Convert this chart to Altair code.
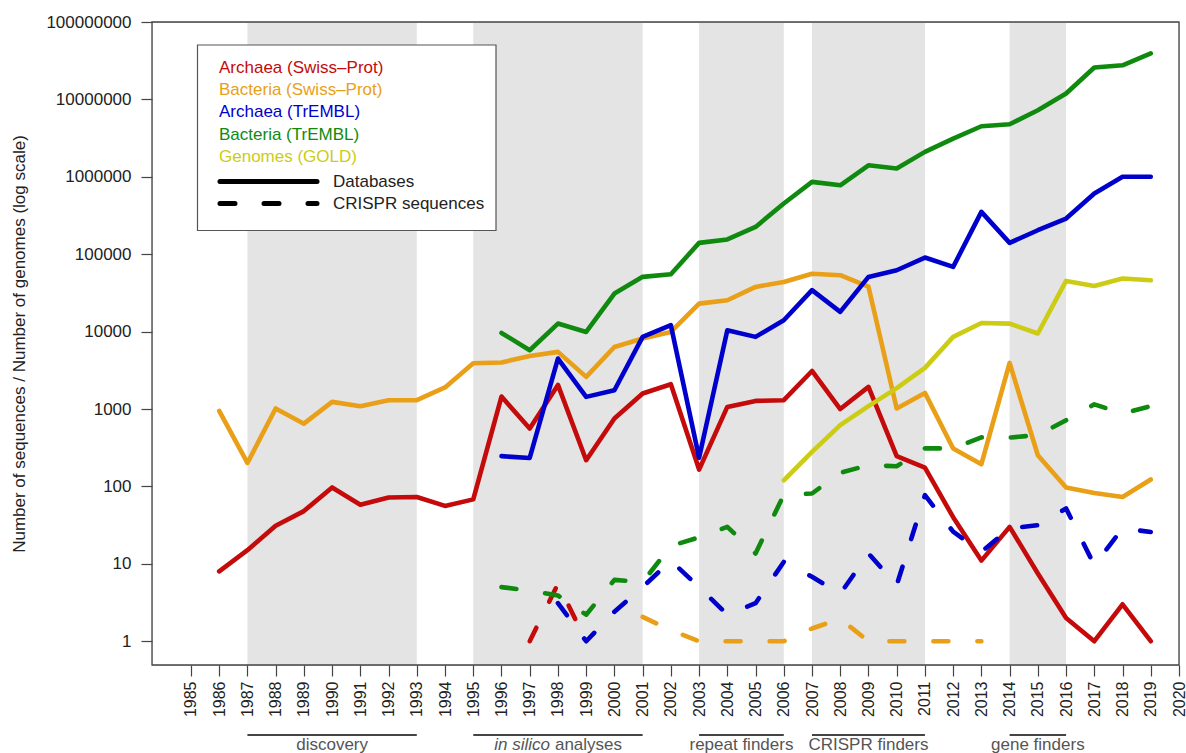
import altair as alt
import pandas as pd

FONT = "Liberation Sans"

# ---------------- data ----------------
tick_years = list(range(1985, 2021))
y_ticks = [1, 10, 100, 1000, 10000, 100000, 1000000, 10000000, 100000000]

series_names = ["Archaea (Swiss\u2013Prot)", "Bacteria (Swiss\u2013Prot)",
                "Archaea (TrEMBL)", "Bacteria (TrEMBL)", "Genomes (GOLD)"]
series_colors = ["#c40a0a", "#e99f17", "#0000cd", "#0f8a0f", "#cccc14"]

# Databases (solid lines)
archaea_sp_years = list(range(1986, 2020))
archaea_sp = [8, 15, 31, 48, 97, 58, 72, 73, 56, 68, 1450, 560, 2050, 218, 754,
              1585, 2090, 165, 1064, 1273, 1300, 3100, 1000, 1930, 246, 175, 40,
              11, 30, 7.5, 2, 1, 3, 1]
bacteria_sp_years = list(range(1986, 2020))
bacteria_sp = [945, 201, 1015, 647, 1236, 1087, 1300, 1300, 1900, 3900, 3990,
               4850, 5470, 2600, 6330, 8130, 9900, 23000, 25450, 37800, 43800,
               56000, 53600, 38000, 1015, 1615, 309, 194, 3940, 253, 97, 82, 73, 123]
archaea_tr_years = list(range(1996, 2020))
archaea_tr = [246, 233, 4490, 1435, 1750, 8550, 12100, 235, 10400, 8550, 14000,
              34300, 18000, 50900, 62100, 90600, 68600, 352000, 140000, 204000,
              289000, 608000, 1000000, 1000000]
bacteria_tr_years = list(range(1996, 2020))
bacteria_tr = [9620, 5750, 12700, 9900, 31000, 51000, 55200, 140000, 155000,
               225000, 452000, 860000, 777000, 1410000, 1280000, 2100000, 3120000,
               4500000, 4780000, 7240000, 11900000, 25800000, 27600000, 39200000]
genomes_years = list(range(2006, 2020))
genomes = [120, 280, 620, 1090, 1860, 3400, 8550, 12900, 12700, 9460, 45200,
           38900, 48500, 46100]

# CRISPR sequences (dashed lines)
archaea_sp_crispr_years = [1997, 1998, 1999]
archaea_sp_crispr = [1, 5.5, 1]
bacteria_sp_crispr_years = list(range(2001, 2014))
bacteria_sp_crispr = [2.06, 1.39, 1, 1, 1, 1, 1.46, 1.95, 1, 1, 1, 1, 1]
archaea_tr_crispr_years = list(range(1998, 2020))
archaea_tr_crispr = [3.1, 1.0, 2.4, 5.0, 11, 5, 2.2, 3.1, 10.6, 6.8, 4.1, 13.6,
                     5.3, 77, 26, 14.3, 28.6, 31.6, 52, 9.6, 28.6, 25.8]
bacteria_tr_crispr_years = list(range(1996, 2020))
bacteria_tr_crispr = [5.0, 4.5, 3.9, 2.2, 6.2, 5.8, 17, 22, 30, 13.6, 78, 81, 150,
                      188, 182, 310, 310, 430, 428, 460, 716, 1150, 873, 1090]

band_starts = [1987, 1995, 2003, 2007, 2014]
band_ends = [1993, 2001, 2006, 2011, 2016]
band_labels = ["discovery", "in silico analyses", "repeat finders",
               "CRISPR finders", "gene finders"]

legend_kinds = ["Databases", "CRISPR sequences"]
y_title = "Number of sequences / Number of genomes (log scale)"

# ---------------- layout ----------------
W, H = 1027, 643

x_scale = alt.Scale(domain=[1983.62, 2020], nice=False, zero=False)
y_scale = alt.Scale(type="log", domain=[0.493, 1e8], nice=False)

x_axis = alt.Axis(values=tick_years, format="d", labelAngle=270, labelAlign="right",
                  labelBaseline="middle", labelFontSize=16, labelColor="#222",
                  labelFont=FONT, tickSize=11, tickColor="#444", tickWidth=1.2,
                  labelPadding=5, domain=False, grid=False, labelOverlap=False)
y_axis = alt.Axis(values=y_ticks, format="d", labelFontSize=17, labelColor="#222",
                  labelFont=FONT, tickSize=11, tickColor="#444", tickWidth=1.2,
                  labelPadding=10, domain=False, grid=False,
                  titleFont=FONT, titleFontSize=17, titleFontWeight="normal",
                  titleColor="#222", titleX=-133, titleY=H / 2, titleAngle=270,
                  titleAlign="center", titleBaseline="middle")


def X(field):
    return alt.X(f"{field}:Q", scale=x_scale, axis=x_axis, title=None)


one = pd.DataFrame({"a": [0]})

# grey bands
bands_df = pd.DataFrame({"start": band_starts, "end": band_ends,
                         "mid": [(a + b) / 2 for a, b in zip(band_starts, band_ends)],
                         "label": band_labels})
bands = alt.Chart(bands_df).mark_rect(color="#e4e4e4").encode(
    x=X("start"), x2="end:Q", y=alt.value(0), y2=alt.value(H))

# data lines
solid = [(archaea_sp_years, archaea_sp), (bacteria_sp_years, bacteria_sp),
         (archaea_tr_years, archaea_tr), (bacteria_tr_years, bacteria_tr),
         (genomes_years, genomes)]
dashed = [(archaea_sp_crispr_years, archaea_sp_crispr),
          (bacteria_sp_crispr_years, bacteria_sp_crispr),
          (archaea_tr_crispr_years, archaea_tr_crispr),
          (bacteria_tr_crispr_years, bacteria_tr_crispr)]

DASH = [15, 29]


def line_layer(yrs, vals, color, **kw):
    df = pd.DataFrame({"year": yrs, "value": vals})
    return alt.Chart(df).mark_line(color=color, strokeWidth=4.6, strokeCap="round",
                                   strokeJoin="round", **kw).encode(
        x=X("year"),
        y=alt.Y("value:Q", scale=y_scale, axis=y_axis, title=y_title))


line_layers = []
for (yrs, vals), c in zip(solid, series_colors):
    line_layers.append(line_layer(yrs, vals, c))
for (yrs, vals), c in zip(dashed, series_colors):
    line_layers.append(line_layer(yrs, vals, c, strokeDash=DASH))

# legend (drawn inside plot area, top-left)
legend_layers = [alt.Chart(one).mark_rect(fill="white", stroke="#555", strokeWidth=1.2).encode(
    x=alt.value(45.5), x2=alt.value(344), y=alt.value(23), y2=alt.value(208.5))]
row_y = [46, 68, 90, 112.5, 134.5]
for name, c, yy in zip(series_names, series_colors, row_y):
    legend_layers.append(alt.Chart(one).mark_text(
        text=name, color=c, fontSize=17, font=FONT, align="left", baseline="middle").encode(
        x=alt.value(67), y=alt.value(yy)))
legend_layers.append(alt.Chart(one).mark_rule(color="black", strokeWidth=5, strokeCap="round").encode(
    x=alt.value(68), x2=alt.value(165), y=alt.value(159.5)))
legend_layers.append(alt.Chart(one).mark_rule(color="black", strokeWidth=5, strokeCap="round",
                                              strokeDash=DASH).encode(
    x=alt.value(68), x2=alt.value(165), y=alt.value(181.5)))
for txt, yy in zip(legend_kinds, [159.5, 181.5]):
    legend_layers.append(alt.Chart(one).mark_text(
        text=txt, color="#222", fontSize=17, font=FONT, align="left", baseline="middle").encode(
        x=alt.value(181), y=alt.value(yy)))

# period annotations below the x axis
under_rules = alt.Chart(bands_df).mark_rule(color="#444", strokeWidth=2).encode(
    x=X("start"), x2="end:Q", y=alt.value(H + 70))
plain_df = bands_df[bands_df["label"] != "in silico analyses"]
under_text = alt.Chart(plain_df).mark_text(
    fontSize=17, font=FONT, color="#555", baseline="alphabetic").encode(
    x=X("mid"), y=alt.value(H + 85), text="label:N")
silico_df = bands_df[bands_df["label"] == "in silico analyses"]
silico_it = alt.Chart(silico_df).mark_text(
    text="in silico", fontSize=17, font=FONT, fontStyle="italic", color="#555",
    baseline="alphabetic", align="right", dx=-8).encode(x=X("mid"), y=alt.value(H + 85))
silico_rest = alt.Chart(silico_df).mark_text(
    text="analyses", fontSize=17, font=FONT, color="#555",
    baseline="alphabetic", align="left", dx=-3).encode(x=X("mid"), y=alt.value(H + 85))

frame = alt.Chart(one).mark_rect(fillOpacity=0, stroke="#444", strokeWidth=1.3).encode(
    x=alt.value(0), x2=alt.value(W), y=alt.value(0), y2=alt.value(H))

chart = alt.layer(
    bands, *line_layers, *legend_layers, under_rules, under_text, silico_it, silico_rest, frame
).properties(
    width=W, height=H,
    autosize=alt.AutoSizeParams(type="none"),
    padding={"left": 152, "top": 22, "right": 7, "bottom": 88},
).configure_view(stroke=None).configure(font=FONT)

chart.save("out.html", embed_options={"renderer": "svg", "actions": False})
